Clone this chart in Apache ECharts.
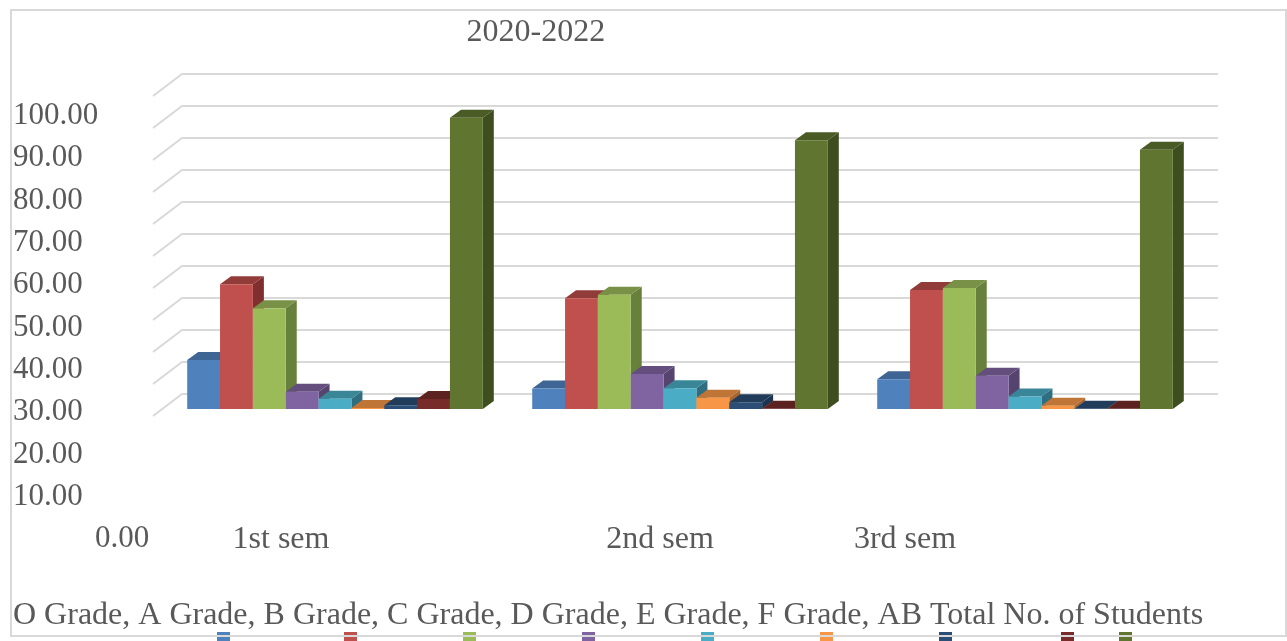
<!DOCTYPE html>
<html>
<head>
<meta charset="utf-8">
<style>html,body{margin:0;padding:0;background:#fff}#c{width:1287px;height:641px}</style>
<script src="https://cdn.jsdelivr.net/npm/echarts@6/dist/echarts.min.js"></script>
</head>
<body>
<div id="c"></div>
<script>
var chartTitle = '2020-2022';
var categories = ['1st sem', '2nd sem', '3rd sem'];
var seriesNames = ['O Grade', 'A Grade', 'B Grade', 'C Grade', 'D Grade', 'E Grade', 'F Grade', 'AB', 'Total No. of Students'];
var oGrade = [15.3, 6.4, 9.3];
var aGrade = [39.0, 34.6, 37.2];
var bGrade = [31.5, 35.7, 37.8];
var cGrade = [5.4, 10.9, 10.4];
var dGrade = [3.2, 6.5, 3.9];
var eGrade = [0.3, 3.5, 1.0];
var fGrade = [1.2, 2.1, 0.05];
var abGrade = [3.1, 0.1, 0.05];
var totalStudents = [91.0, 84.0, 81.0];
var gridTicks = [0, 10, 20, 30, 40, 50, 60, 70, 80, 90, 100];
var allValues = [oGrade, aGrade, bGrade, cGrade, dGrade, eGrade, fGrade, abGrade, totalStudents];

var frontColors = ['#4F81BD', '#C0504D', '#9BBB59', '#8064A2', '#4BACC6', '#F79646', '#2C4D75', '#772C2A', '#5F7530'];
var topColors   = ['#3E6593', '#923C3A', '#789146', '#634E7E', '#3A8699', '#BF7535', '#223C5B', '#5C2220', '#4A5B25'];
var sideColors  = ['#3A5F8B', '#7F2F2D', '#67803B', '#56436E', '#2F6E80', '#A8652E', '#1D3450', '#4F1D1C', '#3F4E1F'];
var swatchLeft = [217, 344, 463, 582, 701, 820, 939, 1061, 1119];
var catLabelShift = [108, 40, 240];

var SERIF = '"Liberation Serif","Times New Roman",serif';
var TEXT = '#595959';
var FS = 31;
var DX = 11, DY = 8;

function barRender(i) {
  return function (params, api) {
    var c = api.coord([api.value(0), api.value(1)]);
    var base = api.coord([api.value(0), 0]);
    var band = api.size([1, 0])[0];
    var w = band * 0.0952;
    var x0 = c[0] + (i - 4.5) * w;
    var x1 = x0 + w;
    var yt = c[1], yb = base[1];
    return {
      type: 'group',
      children: [
        { type: 'polygon', shape: { points: [[x1, yb], [x1 + DX, yb - DY], [x1 + DX, yt - DY], [x1, yt]] },
          style: { fill: sideColors[i] } },
        { type: 'polygon', shape: { points: [[x0, yt], [x0 + DX, yt - DY], [x1 + DX, yt - DY], [x1, yt]] },
          style: { fill: topColors[i] } },
        { type: 'rect', shape: { x: x0, y: yt, width: w, height: yb - yt },
          style: { fill: frontColors[i] } }
      ]
    };
  };
}

function wallRender(params, api) {
  var c = api.coord([0, api.value(1)]);
  var band = api.size([1, 0])[0];
  var left = c[0] - band / 2;
  var right = left + band * categories.length;
  return {
    type: 'polyline',
    shape: { points: [[left - 9.5, c[1] + 7], [left + 19.5, c[1] - 15], [right + 20.5, c[1] - 15]] },
    style: { fill: 'none', stroke: '#D9D9D9', lineWidth: 2 }
  };
}

var series = [{
  name: 'wall',
  type: 'custom',
  xAxisIndex: 0,
  yAxisIndex: 0,
  silent: true,
  renderItem: wallRender,
  data: gridTicks.map(function (t) { return [0, t]; }),
  encode: { x: 0, y: 1 },
  z: 1
}];
seriesNames.forEach(function (name, i) {
  series.push({
    name: name,
    type: 'custom',
    xAxisIndex: 0,
    yAxisIndex: 0,
    renderItem: barRender(i),
    itemStyle: { color: frontColors[i] },
    data: allValues[i].map(function (v, k) { return [k, v]; }),
    encode: { x: 0, y: 1 },
    z: 2 + i
  });
});

var catRich = {};
catLabelShift.forEach(function (s, i) {
  catRich['c' + i] = { fontFamily: SERIF, fontSize: FS + 1, color: TEXT, padding: [0, s, 0, 0] };
});

var legendLine = seriesNames.slice(0, 8).join(', ') + ' ' + seriesNames[8];

var option = {
  animation: false,
  backgroundColor: '#fff',
  title: [
    { text: chartTitle, left: 466.5, top: 17, padding: 0,
      textStyle: { fontFamily: SERIF, fontSize: 32, fontWeight: 'normal', color: TEXT } },
    { text: legendLine, left: 13, top: 600, padding: 0,
      textStyle: { fontFamily: SERIF, fontSize: 32, fontWeight: 'normal', color: TEXT } }
  ],
  legend: seriesNames.map(function (n, i) {
    return {
      data: [n], left: swatchLeft[i], top: 632, padding: 0,
      icon: 'rect', itemWidth: 13, itemHeight: 9,
      formatter: function () { return ''; },
      textStyle: { fontSize: 1 },
      selectedMode: false
    };
  }),
  grid: [
    { left: 162.5, width: 1035, top: 89, height: 320 },
    { left: 100, width: 1035, top: 116, height: 423 }
  ],
  xAxis: [
    { gridIndex: 0, type: 'category', data: categories,
      axisLine: { show: false }, axisTick: { show: false }, splitLine: { show: false },
      axisLabel: { interval: 0, margin: 115, fontFamily: SERIF, fontSize: FS + 1, color: TEXT, rich: catRich,
        formatter: function (v, i) { return '{c' + i + '|' + v + '}'; } } },
    { gridIndex: 1, type: 'value', min: 0, max: 1, show: false }
  ],
  yAxis: [
    { gridIndex: 0, type: 'value', min: 0, max: 100, interval: 10, show: false, splitLine: { show: false } },
    { gridIndex: 1, type: 'value', min: 0, max: 100, interval: 10,
      axisLine: { show: false }, axisTick: { show: false }, splitLine: { show: false },
      axisLabel: { margin: 87, align: 'left', fontFamily: SERIF, fontSize: FS, color: TEXT,
        rich: { z: { fontFamily: SERIF, fontSize: FS, color: TEXT, padding: [0, 0, 0, 82] } },
        formatter: function (v) { return v === 0 ? '{z|0.00}' : v.toFixed(2); } } }
  ],
  graphic: [{
    type: 'rect', z: 100, silent: true,
    shape: { x: 11, y: 10, width: 1275, height: 626 },
    style: { fill: 'none', stroke: '#D9D9D9', lineWidth: 2 }
  }],
  series: series
};
var chart = echarts.init(document.getElementById('c'), null, { renderer: 'canvas' });
chart.setOption(option);
</script>
</body>
</html>
